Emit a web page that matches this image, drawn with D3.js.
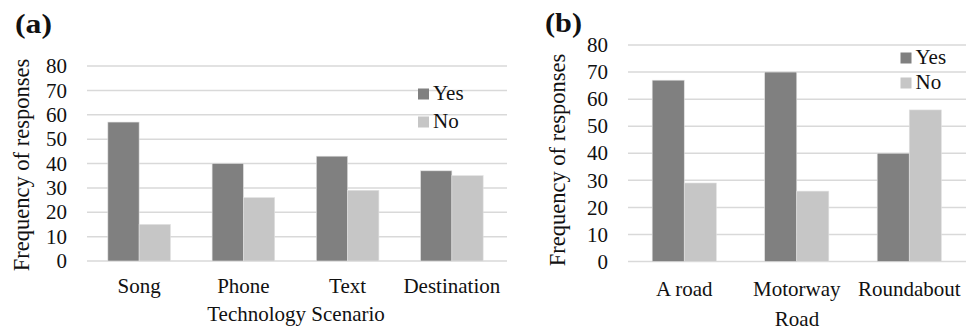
<!DOCTYPE html>
<html>
<head>
<meta charset="utf-8">
<script src="https://cdn.jsdelivr.net/npm/d3@7"></script>
<style>
  html, body { margin: 0; padding: 0; background: #fff; }
</style>
</head>
<body>
<svg id="chart" width="980" height="331"></svg>
<script>
// Panel (a): responses per technology scenario
const scenarioCategories = ["Song", "Phone", "Text", "Destination"];
const scenarioYes = [57, 40, 43, 37];
const scenarioNo = [15, 26, 29, 35];

// Panel (b): responses per road type
const roadCategories = ["A road", "Motorway", "Roundabout"];
const roadYes = [67, 70, 40];
const roadNo = [29, 26, 56];

const seriesNames = ["Yes", "No"];
const yTickValues = [0, 10, 20, 30, 40, 50, 60, 70, 80];

const FONT = "Liberation Serif, Times New Roman, DejaVu Serif, serif";
const colors = { Yes: "#808080", No: "#c6c6c6" };
const svg = d3.select("#chart").attr("font-family", FONT);

function label(sel) {
  return sel.attr("font-family", FONT).attr("fill", "#111");
}

function drawPanel(p) {
  const g = svg.append("g");
  const y = d3.scaleLinear().domain([0, 80]).range([p.y0, p.y80]);
  const x = d3.scaleBand().domain(p.categories).range([p.xLeft, p.xRight])
    .paddingInner(p.padInner).paddingOuter(p.padInner / 2);
  const xs = d3.scaleBand().domain(seriesNames).range([0, x.bandwidth()]);

  // horizontal gridlines
  g.append("g").selectAll("line").data(yTickValues).join("line")
    .attr("x1", p.xLeft).attr("x2", p.gridRight)
    .attr("y1", d => y(d)).attr("y2", d => y(d))
    .attr("stroke", "#d9d9d9").attr("stroke-width", 1.5);

  // y tick labels via d3 axis
  const yAxis = g.append("g").attr("transform", `translate(${p.tickRight},0)`)
    .call(d3.axisLeft(y).tickValues(yTickValues).tickSize(0).tickPadding(0));
  yAxis.attr("font-family", FONT).attr("font-size", 21);
  yAxis.select(".domain").remove();
  label(yAxis.selectAll("text")).attr("font-size", 21);

  // bars
  const rows = p.categories.map((c, i) => ({ cat: c, Yes: p.yes[i], No: p.no[i] }));
  const groups = g.append("g").selectAll("g").data(rows).join("g")
    .attr("transform", d => `translate(${x(d.cat)},0)`);
  groups.selectAll("rect")
    .data(d => seriesNames.map(s => ({ s, v: d[s] })))
    .join("rect")
    .attr("x", d => xs(d.s))
    .attr("width", xs.bandwidth())
    .attr("y", d => y(d.v))
    .attr("height", d => y(0) - y(d.v))
    .attr("fill", d => colors[d.s])
    .attr("stroke", "#e0e0e0").attr("stroke-width", 0.6);

  // category labels
  label(g.append("g").selectAll("text").data(p.categories).join("text"))
    .attr("x", d => x(d) + x.bandwidth() / 2)
    .attr("y", p.catBaseline)
    .attr("text-anchor", "middle").attr("font-size", 21)
    .text(d => d);

  // axis titles
  label(g.append("text")).attr("x", p.xTitleX).attr("y", p.xTitleY)
    .attr("text-anchor", "middle").attr("font-size", 21).text(p.xTitle);
  label(g.append("text"))
    .attr("transform", `translate(${p.yTitleX},${p.yTitleY}) rotate(-90)`)
    .attr("text-anchor", "middle").attr("font-size", 22.5).text("Frequency of responses");

  // panel tag
  label(g.append("text")).attr("x", p.tagX).attr("y", p.tagY)
    .attr("font-size", 28).attr("font-weight", "bold")
    .attr("textLength", 37).attr("lengthAdjust", "spacingAndGlyphs")
    .text(p.tag);

  // legend
  const leg = g.append("g").selectAll("g").data(seriesNames).join("g")
    .attr("transform", (d, i) => `translate(${p.legX},${p.legY + i * p.legStep})`);
  leg.append("rect").attr("x", 0).attr("y", 0).attr("width", 11).attr("height", 11)
    .attr("fill", d => colors[d]);
  label(leg.append("text")).attr("x", 15).attr("y", 11).attr("font-size", 21).text(d => d);
}

drawPanel({
  categories: scenarioCategories, yes: scenarioYes, no: scenarioNo,
  y0: 261, y80: 66, xLeft: 87, xRight: 504, gridRight: 507, padInner: 0.4,
  tickRight: 67, catBaseline: 293,
  xTitle: "Technology Scenario", xTitleX: 296, xTitleY: 321,
  yTitleX: 29, yTitleY: 165,
  tag: "(a)", tagX: 15, tagY: 33,
  legX: 418, legY: 88.5, legStep: 28
});

drawPanel({
  categories: roadCategories, yes: roadYes, no: roadNo,
  y0: 261.5, y80: 45, xLeft: 628, xRight: 965.5, gridRight: 966, padInner: 0.43,
  tickRight: 608, catBaseline: 295.5,
  xTitle: "Road", xTitleX: 797, xTitleY: 326,
  yTitleX: 564.5, yTitleY: 160,
  tag: "(b)", tagX: 545, tagY: 32,
  legX: 900.5, legY: 52.5, legStep: 25
});
</script>
</body>
</html>
